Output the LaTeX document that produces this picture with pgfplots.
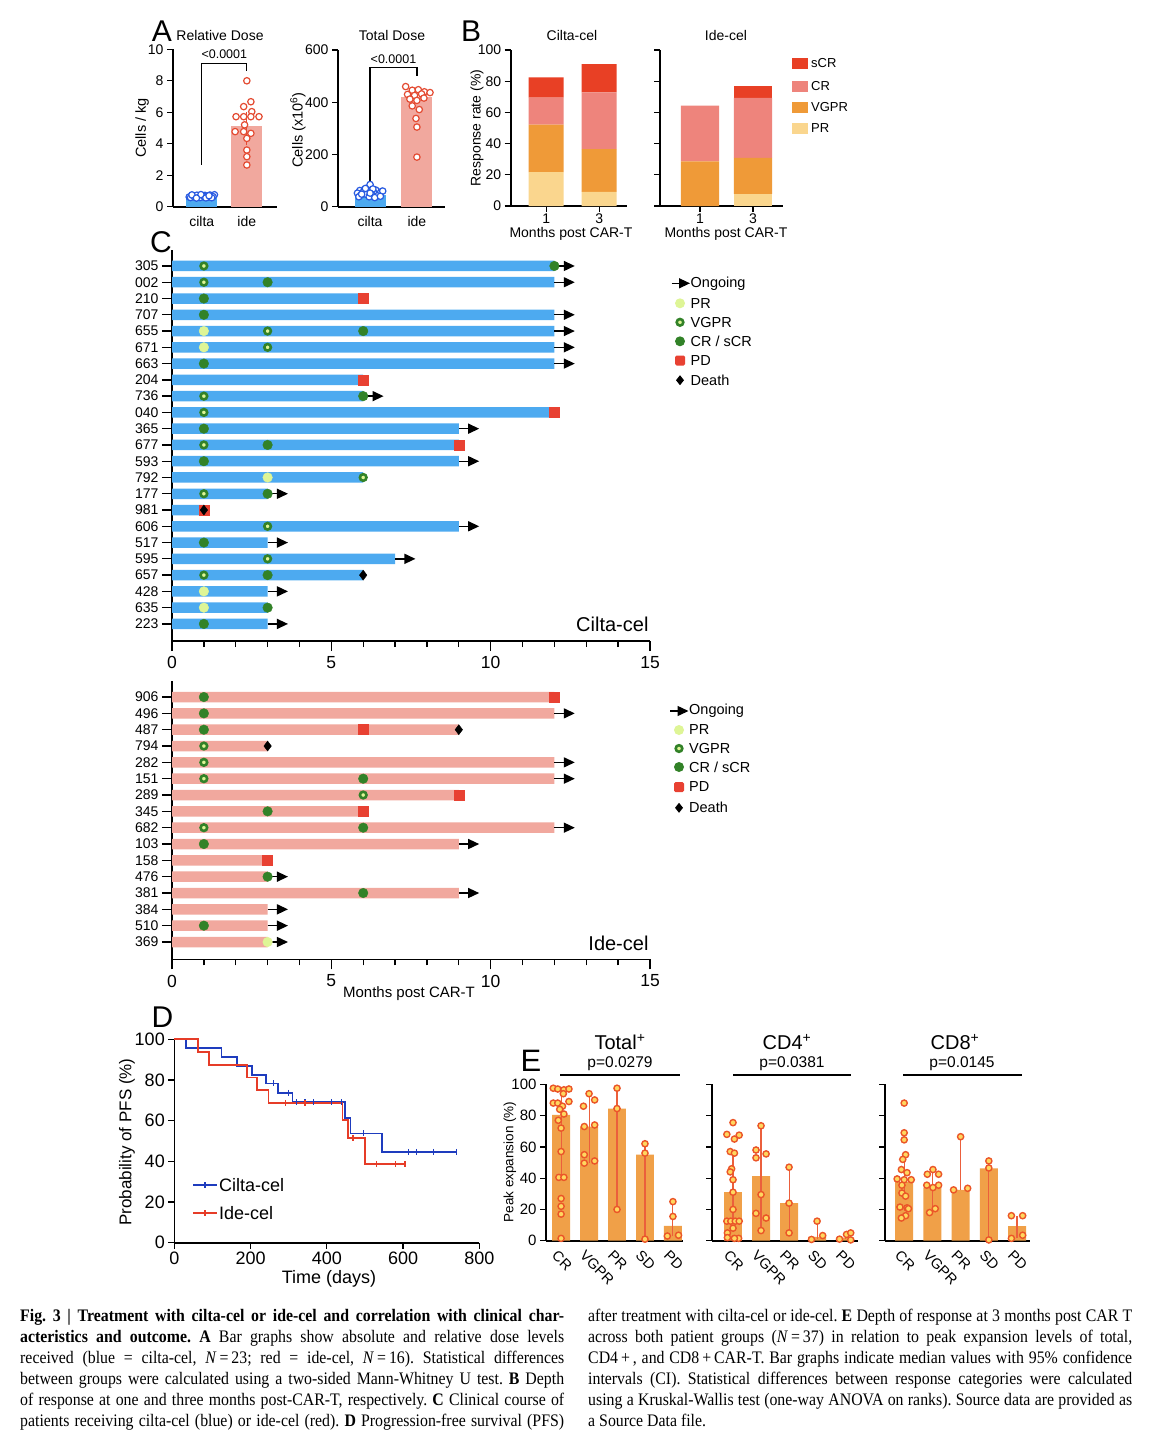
\documentclass[border=0pt]{standalone}
\usepackage{fontspec}
\setmainfont{Liberation Sans}
\newfontfamily\capfont[FakeStretch=0.9]{Liberation Serif}
\usepackage{pgfplots}
\pgfplotsset{compat=1.18}
\usetikzlibrary{arrows.meta}

\definecolor{cblue}{RGB}{77,170,240}
\definecolor{cbluedot}{RGB}{40,90,225}
\definecolor{ipink}{RGB}{241,168,158}
\definecolor{ireddot}{RGB}{228,75,50}
\definecolor{sCRc}{RGB}{232,64,37}
\definecolor{CRc}{RGB}{238,132,124}
\definecolor{VGPRc}{RGB}{239,154,56}
\definecolor{PRc}{RGB}{250,214,142}
\definecolor{dgreen}{RGB}{50,130,40}
\definecolor{lgreen}{RGB}{222,245,150}
\definecolor{pdred}{RGB}{232,65,50}
\definecolor{kmblue}{RGB}{30,60,190}
\definecolor{kmred}{RGB}{230,60,40}
\definecolor{ebar}{RGB}{240,160,72}
\definecolor{edotfill}{RGB}{255,215,95}
\definecolor{edotdraw}{RGB}{235,85,40}
\definecolor{eerr}{RGB}{235,95,60}

\newcommand{\fs}[1]{\fontsize{#1}{#1}\selectfont}
\newcommand{\cl}[1]{\hbox to 544pt{#1}}

\pgfplotsset{
  gp/.style={
    scale only axis, anchor=south west, clip=false,
    axis lines=left, axis line style={-, line width=1.6pt, black},
    tick align=outside, major tick length=6pt,
    tick style={black, line width=1.3pt},
    /pgf/number format/assume math mode=true,
    tick label style={font=\fs{14}},
  },
  vgpr/.style={only marks, dgreen, mark=*, mark size=3.3pt, mark options={fill=lgreen, draw=dgreen, line width=2.6pt}},
  crm/.style={only marks, dgreen, mark=*, mark size=4.8pt, mark options={fill=dgreen, draw=dgreen, line width=0.4pt}},
  prm/.style={only marks, lgreen, mark=*, mark size=4.8pt, mark options={fill=lgreen, draw=lgreen, line width=0.4pt}},
  pdm/.style={only marks, pdred, mark=square*, mark size=5pt, mark options={fill=pdred, draw=pdred, line width=0.6pt, rounded corners=1.5pt}},
  dm/.style={only marks, black, mark=diamond*, mark size=5pt, mark options={fill=black, draw=black, line width=0.4pt}},
  ong/.style={black, line width=1.4pt, -{Triangle[length=11pt,width=10pt]}, quiver={u=0.64,v=0}},
  edot/.style={only marks, edotdraw, mark=*, mark size=3.1pt, mark options={fill=edotfill, draw=edotdraw, line width=1.4pt}},
  ciltadot/.style={only marks, cbluedot, mark=*, mark size=3.2pt, mark options={fill=white, draw=cbluedot, line width=1.2pt}},
  idedot/.style={only marks, ireddot, mark=*, mark size=3.2pt, mark options={fill=white, draw=ireddot, line width=1.2pt}},
  ebars/.style={gp, width=#1, height=156.4pt, ymin=0, ymax=100, ytick={0,20,40,60,80,100},
    xtick={0,1,2,3,4}, xticklabels={CR,VGPR,PR,SD,PD}, xtick style={draw=none},
    xticklabel style={rotate=-45, anchor=north west, font=\fs{14.5}, inner sep=0pt, yshift=-4pt},
    yticklabel style={font=\fs{15}}},
  ebar/.style={ybar, bar width=0.64, bar shift=0pt, fill=ebar, draw=none},
  eci/.style={eerr, line width=1.1pt, quiver={u=0,v=\thisrow{v}}},
}

\begin{document}
\begin{tikzpicture}
\useasboundingbox (0pt,0pt) rectangle (1158pt,-1448pt);
\fill[white] (0pt,0pt) rectangle (1158pt,-1448pt);

% ================= Panel A: Relative dose
\node[font=\fs{30}] at (162pt,-31pt) {A};
\node[font=\fs{14}] at (220pt,-35pt) {Relative Dose};
\node[font=\fs{14.5}, rotate=90] at (142pt,-128pt) {Cells / kg};
\begin{axis}[gp, at={(173pt,-206.7pt)}, width=104pt, height=157.4pt,
  xmin=-0.64, xmax=1.67, ymin=0, ymax=10,
  xtick={0,1}, xticklabels={cilta,ide}, xtick style={draw=none},
  ytick={0,2,4,6,8,10}]
\addplot[ybar, bar width=0.69, bar shift=0pt, fill=cblue, draw=none] coordinates {(0,0.55)};
\addplot[ybar, bar width=0.69, bar shift=0pt, fill=ipink, draw=none] coordinates {(1,5.15)};
\addplot[ireddot, line width=1pt, quiver={u=0,v=\thisrow{v}}] table {
x y v
1 3.9 2.1
};
\addplot[ciltadot] table {
x y
-0.28 0.62
-0.21 0.70
-0.14 0.60
-0.07 0.68
0.00 0.63
0.07 0.72
0.14 0.62
0.21 0.69
0.28 0.76
-0.25 0.58
-0.18 0.66
-0.11 0.73
-0.04 0.58
0.04 0.67
0.11 0.60
0.18 0.74
0.25 0.64
-0.22 0.75
-0.02 0.77
0.09 0.56
0.22 0.57
-0.12 0.55
0.16 0.70
};
\addplot[idedot] table {
x y
1.00 8.0
1.09 6.67
0.93 6.36
1.11 6.04
0.76 5.72
0.93 5.72
1.09 5.72
1.27 5.72
0.95 5.2
0.74 4.77
0.93 4.77
1.09 4.66
1.00 4.34
1.00 3.6
1.00 3.18
1.00 2.65
};
\draw[line width=1.3pt] (axis cs:0,2.65) -- (axis cs:0,9.1) -- (axis cs:1,9.1) -- (axis cs:1,8.6);
\node[font=\fs{12.5}] at (axis cs:0.5,9.7) {<0.0001};
\end{axis}

% ================= Panel A: Total dose
\node[font=\fs{14}] at (392pt,-35pt) {Total Dose};
\node[font=\fs{14.5}, rotate=90] at (298pt,-130pt) {Cells (x10\textsuperscript{6})};
\begin{axis}[gp, at={(338pt,-206.7pt)}, width=107pt, height=156.7pt,
  xmin=-0.685, xmax=1.6, ymin=0, ymax=600,
  xtick={0,1}, xticklabels={cilta,ide}, xtick style={draw=none},
  ytick={0,200,400,600}]
\addplot[ybar, bar width=0.66, bar shift=0pt, fill=cblue, draw=none] coordinates {(0,45)};
\addplot[ybar, bar width=0.66, bar shift=0pt, fill=ipink, draw=none] coordinates {(1,419)};
\addplot[ciltadot] table {
x y
0.00 85
-0.22 62
-0.12 66
0.12 64
0.24 58
-0.27 52
-0.15 55
-0.03 57
0.08 54
0.20 50
-0.20 44
-0.08 47
0.04 45
0.16 42
0.27 60
-0.24 38
-0.02 38
0.10 35
0.22 40
-0.10 70
0.06 68
-0.18 48
0.00 52
};
\addplot[idedot] table {
x y
0.76 460
0.90 446
1.03 448
1.16 440
1.28 437
0.80 430
0.95 426
1.10 432
0.85 412
1.00 407
1.15 416
0.90 386
1.05 372
0.98 338
1.00 305
1.00 190
};
\draw[line width=1.3pt] (axis cs:0,96) -- (axis cs:0,534) -- (axis cs:1,534) -- (axis cs:1,500);
\node[font=\fs{12.5}] at (axis cs:0.5,566) {<0.0001};
\end{axis}

% ================= Panel B
\node[font=\fs{30}] at (471pt,-31pt) {B};
\node[font=\fs{14}] at (572pt,-35pt) {Cilta-cel};
\node[font=\fs{14}] at (726pt,-35pt) {Ide-cel};
\node[font=\fs{14}, rotate=90] at (477pt,-128pt) {Response rate (\%)};
\node[font=\fs{14}] at (571pt,-234pt) {Months post CAR-T};
\node[font=\fs{14}] at (726pt,-234pt) {Months post CAR-T};
\begin{axis}[gp, at={(510.7pt,-206pt)}, width=116pt, height=156pt,
  ybar stacked, bar width=0.66,
  xmin=-0.67, xmax=1.52, ymin=0, ymax=100,
  xtick={0,1}, xticklabels={1,3}, ytick={0,20,40,60,80,100},
  xticklabel style={yshift=2pt}]
\addplot[fill=PRc, draw=none] coordinates {(0,21.7) (1,9.1)};
\addplot[fill=VGPRc, draw=none] coordinates {(0,30.4) (1,27.3)};
\addplot[fill=CRc, draw=none] coordinates {(0,17.4) (1,36.4)};
\addplot[fill=sCRc, draw=none] coordinates {(0,13.0) (1,18.2)};
\end{axis}
\begin{axis}[gp, at={(660pt,-206pt)}, width=122.7pt, height=156pt,
  ybar stacked, bar width=0.72,
  xmin=-0.755, xmax=1.56, ymin=0, ymax=100,
  xtick={0,1}, xticklabels={1,3}, ytick={0,20,40,60,80,100}, yticklabels={},
  xticklabel style={yshift=2pt}]
\addplot[fill=PRc, draw=none] coordinates {(0,0) (1,7.7)};
\addplot[fill=VGPRc, draw=none] coordinates {(0,28.6) (1,23.1)};
\addplot[fill=CRc, draw=none] coordinates {(0,35.7) (1,38.5)};
\addplot[fill=sCRc, draw=none] coordinates {(0,0) (1,7.7)};
\end{axis}
% legend B
\fill[sCRc] (791.5pt,-57.5pt) rectangle (808pt,-69pt);
\fill[CRc] (791.5pt,-80.5pt) rectangle (808pt,-92pt);
\fill[VGPRc] (791.5pt,-101.5pt) rectangle (808pt,-113pt);
\fill[PRc] (791.5pt,-122.5pt) rectangle (808pt,-134pt);
\node[font=\fs{13}, anchor=west, inner sep=0pt] at (811pt,-63.3pt) {sCR};
\node[font=\fs{13}, anchor=west, inner sep=0pt] at (811pt,-86.3pt) {CR};
\node[font=\fs{13}, anchor=west, inner sep=0pt] at (811pt,-107.3pt) {VGPR};
\node[font=\fs{13}, anchor=west, inner sep=0pt] at (811pt,-128.3pt) {PR};

% ================= Panel C (cilta)
\node[font=\fs{30}] at (161pt,-242pt) {C};
\begin{axis}[gp, at={(172pt,-641pt)}, width=478pt, height=391.3pt,
  xmin=0, xmax=15, ymin=-24.05, ymax=0,
  xtick={0,5,10,15}, minor x tick num=4, major tick length=10pt, minor tick length=6pt,
  ytick={-1,-2,...,-23},
  yticklabels={305,002,210,707,655,671,663,204,736,040,365,677,593,792,177,981,606,517,595,657,428,635,223},
  xticklabel style={font=\fs{17.5}, yshift=-2pt}, yticklabel style={font=\fs{14}}]
\addplot[xbar, bar width=10.5pt, bar shift=0pt, fill=cblue, draw=none] coordinates {
(12,-1) (12,-2) (6,-3) (12,-4) (12,-5) (12,-6) (12,-7) (6,-8) (6,-9) (12,-10) (9,-11) (9,-12)
(9,-13) (6,-14) (3,-15) (1,-16) (9,-17) (3,-18) (7,-19) (6,-20) (3,-21) (3,-22) (3,-23)};
\addplot[ong] coordinates {(12,-1) (12,-2) (12,-4) (12,-5) (12,-6) (12,-7) (6,-9) (9,-11) (9,-13) (3,-15) (9,-17) (3,-18) (7,-19) (3,-21) (3,-23)};
\addplot[pdm] coordinates {(6,-3) (6,-8) (12,-10) (9,-12) (1,-16)};
\addplot[prm] coordinates {(1,-5) (1,-6) (3,-14) (1,-21) (1,-22)};
\addplot[vgpr] coordinates {(1,-1) (1,-2) (3,-5) (3,-6) (1,-9) (1,-10) (1,-12) (6,-14) (1,-15) (3,-17) (3,-19) (1,-20)};
\addplot[crm] coordinates {(12,-1) (3,-2) (1,-3) (1,-4) (6,-5) (1,-7) (6,-9) (1,-11) (3,-12) (1,-13) (3,-15) (1,-18) (3,-20) (3,-22) (1,-23)};
\addplot[dm] coordinates {(1,-16) (6,-20)};
\end{axis}
\node[font=\fs{20}, anchor=east] at (652pt,-624pt) {Cilta-cel};

% legend C top
\draw[black, line width=1.4pt, -{Triangle[length=11pt,width=10pt]}] (671.5pt,-283.3pt) -- (690pt,-283.3pt);
\fill[lgreen] (680pt,-303.3pt) circle (5pt);
\draw[dgreen, fill=lgreen, line width=2.6pt] (680pt,-322.3pt) circle (3.3pt);
\fill[dgreen] (680pt,-341.3pt) circle (5pt);
\fill[pdred, rounded corners=1.5pt] (675pt,-355.5pt) rectangle (685pt,-365.5pt);
\fill[black] (680pt,-375.2pt) -- (684pt,-380.2pt) -- (680pt,-385.2pt) -- (676pt,-380.2pt) -- cycle;
\foreach \yy/\tt in {283.3/{Ongoing},303.3/{PR},322.3/{VGPR},341.3/{CR / sCR},360.5/{PD},380.2/{Death}}{
  \node[font=\fs{14.5}, anchor=west, inner sep=0pt] at (690.5pt,-\yy pt) {\tt};
}

% ================= Panel C (ide)
\begin{axis}[gp, at={(172pt,-959.3pt)}, width=478pt, height=278.6pt,
  xmin=0, xmax=15, ymin=-17.06, ymax=0,
  xtick={0,5,10,15}, minor x tick num=4, major tick length=10pt, minor tick length=6pt,
  ytick={-1,-2,...,-16},
  yticklabels={906,496,487,794,282,151,289,345,682,103,158,476,381,384,510,369},
  xticklabel style={font=\fs{17.5}, yshift=-2pt}, yticklabel style={font=\fs{14}}]
\addplot[xbar, bar width=10.5pt, bar shift=0pt, fill=ipink, draw=none] coordinates {
(12,-1) (12,-2) (9,-3) (3,-4) (12,-5) (12,-6) (9,-7) (6,-8) (12,-9) (9,-10) (3,-11) (3,-12)
(9,-13) (3,-14) (3,-15) (3,-16)};
\addplot[ong] coordinates {(12,-2) (12,-5) (12,-6) (12,-9) (9,-10) (3,-12) (9,-13) (3,-14) (3,-15) (3,-16)};
\addplot[pdm] coordinates {(12,-1) (6,-3) (9,-7) (6,-8) (3,-11)};
\addplot[prm] coordinates {(3,-16)};
\addplot[vgpr] coordinates {(1,-4) (1,-5) (1,-6) (6,-7) (1,-9)};
\addplot[crm] coordinates {(1,-1) (1,-2) (1,-3) (6,-6) (3,-8) (6,-9) (1,-10) (3,-12) (6,-13) (1,-15)};
\addplot[dm] coordinates {(9,-3) (3,-4)};
\end{axis}
\node[font=\fs{20}, anchor=east] at (652pt,-943pt) {Ide-cel};
\node[font=\fs{15}] at (409pt,-994pt) {Months post CAR-T};

% legend C bottom
\draw[black, line width=1.4pt, -{Triangle[length=11pt,width=10pt]}] (670pt,-711pt) -- (688.5pt,-711pt);
\fill[lgreen] (679pt,-730pt) circle (5pt);
\draw[dgreen, fill=lgreen, line width=2.6pt] (679pt,-748.5pt) circle (3.3pt);
\fill[dgreen] (679pt,-767pt) circle (5pt);
\fill[pdred, rounded corners=1.5pt] (674pt,-782pt) rectangle (684pt,-792pt);
\fill[black] (679pt,-802.8pt) -- (683pt,-807.8pt) -- (679pt,-812.8pt) -- (675pt,-807.8pt) -- cycle;
\foreach \yy/\tt in {711/{Ongoing},730/{PR},748.5/{VGPR},767/{CR / sCR},787/{PD},807.8/{Death}}{
  \node[font=\fs{14.5}, anchor=west, inner sep=0pt] at (689pt,-\yy pt) {\tt};
}

% ================= Panel D
\node[font=\fs{30}] at (162.5pt,-1017.5pt) {D};
\node[font=\fs{17}, rotate=90] at (127pt,-1142pt) {Probability of PFS (\%)};
\node[font=\fs{18}] at (329pt,-1279pt) {Time (days)};
\begin{axis}[gp, at={(174.3pt,-1242.7pt)}, width=305pt, height=203.4pt,
  xmin=0, xmax=800, ymin=0, ymax=100,
  xtick={0,200,400,600,800}, ytick={0,20,40,60,80,100},
  tick label style={font=\fs{18}}]
\addplot[const plot, kmblue, line width=1.8pt] coordinates {
(0,100) (30.6,95.65) (124,91.3) (165,87) (203,82.6) (240,78.3) (273,73.7) (310,69.1)
(448,61.4) (462,53.7) (544,44.7) (740,44.7)};
\addplot[const plot, kmred, line width=1.8pt] coordinates {
(0,100) (63,93.75) (92,87.5) (191,81.25) (216,75) (247,68.75) (441,60.2) (455,51.6) (500,38.7) (605,38.7)};
\addplot[only marks, mark=|, mark size=3pt, kmblue, mark options={line width=1.3pt}] coordinates {
(260,78.3) (299,73.7) (321,69.1) (343,69.1) (366,69.1) (413,69.1) (439,69.1) (496,53.7)
(614,44.7) (636,44.7) (679,44.7) (740,44.7)};
\addplot[only marks, mark=|, mark size=3pt, kmred, mark options={line width=1.3pt}] coordinates {
(292,68.75) (343,68.75) (469,51.6) (531,38.7) (581,38.7) (605,38.7)};
\end{axis}
\draw[kmblue, line width=1.8pt] (193pt,-1185pt) -- (217pt,-1185pt);
\draw[kmblue, line width=1.3pt] (205pt,-1182pt) -- (205pt,-1188pt);
\draw[kmred, line width=1.8pt] (193pt,-1213pt) -- (217pt,-1213pt);
\draw[kmred, line width=1.3pt] (205pt,-1210pt) -- (205pt,-1216pt);
\node[font=\fs{18}, anchor=west, inner sep=0pt] at (219pt,-1185pt) {Cilta-cel};
\node[font=\fs{18}, anchor=west, inner sep=0pt] at (219pt,-1213pt) {Ide-cel};

% ================= Panel E
\node[font=\fs{31}] at (531pt,-1061pt) {E};
\node[font=\fs{13.5}, rotate=90] at (510pt,-1162pt) {Peak expansion (\%)};
\node[font=\fs{20}] at (620pt,-1042pt) {Total\textsuperscript{+}};
\node[font=\fs{20}] at (787pt,-1042pt) {CD4\textsuperscript{+}};
\node[font=\fs{20}] at (955pt,-1042pt) {CD8\textsuperscript{+}};
\node[font=\fs{15.5}] at (620pt,-1064pt) {p=0.0279};
\node[font=\fs{15.5}] at (792pt,-1064pt) {p=0.0381};
\node[font=\fs{15.5}] at (962pt,-1064pt) {p=0.0145};
\draw[line width=1.3pt] (560pt,-1075pt) -- (680pt,-1075pt);
\draw[line width=1.3pt] (733pt,-1075pt) -- (851pt,-1075pt);
\draw[line width=1.3pt] (903pt,-1075pt) -- (1022pt,-1075pt);

\begin{axis}[ebars=137pt, at={(546pt,-1240.7pt)}, xmin=-0.54, xmax=4.36]
\addplot[ebar] coordinates {(0,80.5) (1,73) (2,84.5) (3,55) (4,9.5)};
\addplot[eci] table {
x y v
0 40.5 56.5
1 50 43
2 20 77.5
3 1 61
4 3 22
};
\addplot[edot] table {
x y
-0.28 97.5
-0.12 97
0.10 96.5
0.28 97
0.08 94
-0.28 88
-0.12 88
0.28 89
0.05 86
-0.05 84
0.10 81
-0.10 77
0.00 72
0.00 57
-0.08 40.5
0.10 40.5
0.00 27
0.00 22
0.00 17
0.00 1.5
1.00 94
1.20 90
0.80 86
0.83 73
1.20 74
0.83 55
0.83 49.6
1.20 51
2 97.5
2 84.5
2 20
3 62
3 56
3 1
4 25
4 15.5
3.8 3
4.2 3.5
};
\end{axis}

\begin{axis}[ebars=146pt, at={(712pt,-1240.7pt)}, xmin=-0.75, xmax=4.46, yticklabels={}]
\addplot[ebar] coordinates {(0,31) (1,41.3) (2,24) (3,2.5) (4,2)};
\addplot[eci] table {
x y v
0 12.5 44.5
1 6.5 67
2 5 42
3 0.8 11.7
4 1 4
};
\addplot[edot] table {
x y
0.00 75.5
-0.22 68
0.22 67.5
0.05 65
-0.10 57
0.05 56
-0.05 46
-0.10 44
0.00 39
0.00 31
0.00 20
-0.22 12.5
-0.08 12.5
0.08 12.5
0.22 12.5
0.00 8
-0.20 5
-0.20 2
0.20 1.5
0.05 1.5
1.00 73.5
0.82 58
0.82 53
1.18 55.5
1.00 29.5
0.82 17.5
1.18 14.5
1.00 6.5
2 47
2 24
2 5
3 12.5
3.2 3.3
2.8 0.8
3.8 1
4.05 4
4.2 5
4.2 0.5
};
\end{axis}

\begin{axis}[ebars=145pt, at={(885pt,-1240.7pt)}, xmin=-0.68, xmax=4.46, yticklabels={}]
\addplot[ebar] coordinates {(0,37.7) (1,34) (2,32.5) (3,46.3) (4,9.4)};
\addplot[eci] table {
x y v
0 28 27
1 18 26
2 32.5 34
3 0.5 50.5
4 1.5 14.5
};
\addplot[edot] table {
x y
0.00 88
0.00 69
0.00 64.5
0.05 55
-0.05 52
-0.10 45.5
0.10 43.5
-0.25 39.5
0.00 39
0.25 39
-0.08 35.5
-0.08 30.5
0.05 28.5
-0.15 21.5
0.10 21
0.15 20.5
0.05 16
-0.10 14.5
0.82 42.5
1.02 45.5
1.22 42.5
0.80 35.5
1.02 34
1.22 35.5
1.10 20.5
0.90 18
2 66.5
1.75 32.5
2.25 33.5
3 51
3 46.5
3 0.5
3.8 16
4.2 16
3.8 1.5
4.2 3.5
};
\end{axis}

% ================= Caption
\node[anchor=base west, inner sep=0pt] at (20pt,-1321pt) {\vtop{\capfont\fontsize{17.6}{21}\selectfont\frenchspacing
\cl{\textbf{Fig.\ 3 | Treatment with cilta-cel or ide-cel and correlation with clinical char-}}
\cl{\textbf{acteristics and outcome. A} Bar graphs show absolute and relative dose levels}
\cl{received (blue = cilta-cel, \textit{N}\,=\,23; red = ide-cel, \textit{N}\,=\,16). Statistical differences}
\cl{between groups were calculated using a two-sided Mann-Whitney U test. \textbf{B} Depth}
\cl{of response at one and three months post-CAR-T, respectively. \textbf{C} Clinical course of}
\cl{patients receiving cilta-cel (blue) or ide-cel (red). \textbf{D} Progression-free survival (PFS)}}};
\node[anchor=base west, inner sep=0pt] at (588pt,-1321pt) {\vtop{\capfont\fontsize{17.6}{21}\selectfont\frenchspacing
\cl{after treatment with cilta-cel or ide-cel. \textbf{E} Depth of response at 3 months post CAR T}
\cl{across both patient groups (\textit{N}\,=\,37) in relation to peak expansion levels of total,}
\cl{CD4\,+\,, and CD8\,+\,CAR-T. Bar graphs indicate median values with 95\% confidence}
\cl{intervals (CI). Statistical differences between response categories were calculated}
\cl{using a Kruskal-Wallis test (one-way ANOVA on ranks). Source data are provided as}
\cl{a Source Data file.\hfil}}};
\end{tikzpicture}
\end{document}
